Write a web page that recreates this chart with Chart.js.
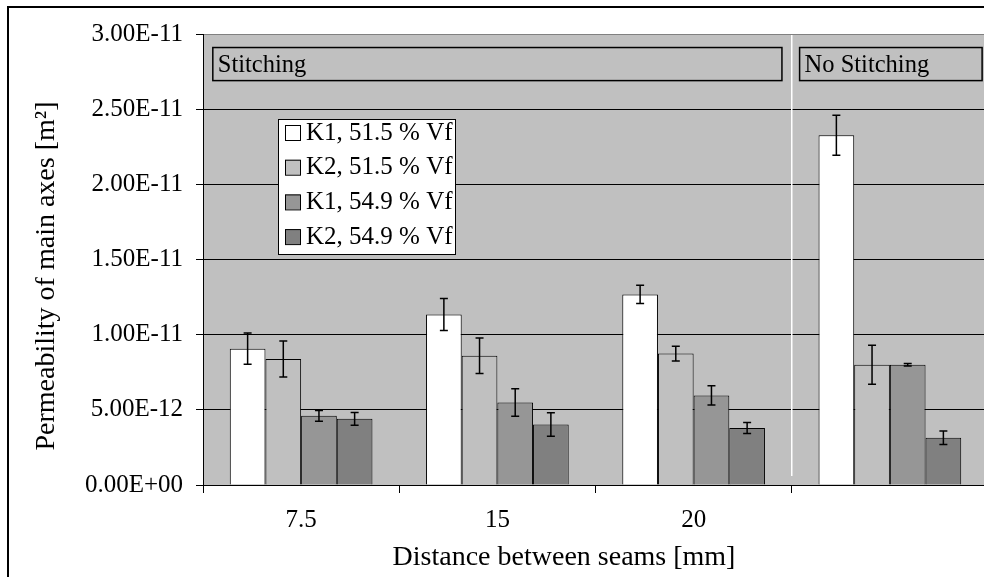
<!DOCTYPE html>
<html>
<head>
<meta charset="utf-8">
<script src="https://cdn.jsdelivr.net/npm/chart.js@4.4.0/dist/chart.umd.min.js"></script>
<style>
  html, body { margin: 0; padding: 0; background: #fff; overflow: hidden; }
  #wrap { width: 1000px; height: 577px; }
</style>
</head>
<body>
<div id="wrap"><canvas id="chart" width="1000" height="577"></canvas></div>
<script>
// categories (last group has no label, it is the "No Stitching" reference)
const categories = ['7.5', '15', '20', '']
const seriesLabels = ['K1, 51.5 % Vf', 'K2, 51.5 % Vf', 'K1, 54.9 % Vf', 'K2, 54.9 % Vf']
const seriesColors = ['#ffffff', '#c0c0c0', '#969696', '#808080']

// permeability values [m^2] and their error bars
const k1_515 = [9.07e-12, 11.34e-12, 12.68e-12, 23.26e-12]
const k2_515 = [8.38e-12, 8.6e-12, 8.74e-12, 8.0e-12]
const k1_549 = [4.6e-12, 5.49e-12, 5.96e-12, 8.0e-12]
const k2_549 = [4.4e-12, 4.02e-12, 3.79e-12, 3.15e-12]
const k1_515_err = [1.04e-12, 1.07e-12, 0.6e-12, 1.33e-12]
const k2_515_err = [1.2e-12, 1.18e-12, 0.49e-12, 1.29e-12]
const k1_549_err = [0.36e-12, 0.92e-12, 0.64e-12, 0.08e-12]
const k2_549_err = [0.43e-12, 0.78e-12, 0.37e-12, 0.45e-12]

const yTickLabels = ['0.00E+00', '5.00E-12', '1.00E-11', '1.50E-11', '2.00E-11', '2.50E-11', '3.00E-11']

const xTitle = 'Distance between seams [mm]'
const yTitle = 'Permeability of main axes [m²]'

// region boxes: [label, from index, to index]
const regions = [['Stitching', -0.45, 2.45], ['No Stitching', 2.54, 3.47]]

const serif = "'Liberation Serif', 'Times New Roman', serif"

let values = [k1_515, k2_515, k1_549, k2_549]
let errors = [k1_515_err, k2_515_err, k1_549_err, k2_549_err]

let datasets = values.map((vals, i) => ({
    label: seriesLabels[i],
    data: vals,
    errors: errors[i],
    backgroundColor: seriesColors[i],
    borderColor: '#000',
    borderWidth: 1,
    categoryPercentage: 0.727,
    barPercentage: 1.0
}))

const plotBackground = {
    id: 'plotBackground',
    beforeDraw(chart) {
        let ctx = chart.ctx
        let a = chart.chartArea
        ctx.save()
        ctx.fillStyle = '#fff'
        ctx.fillRect(0, 0, chart.width, chart.height)
        ctx.fillStyle = '#c0c0c0'
        ctx.fillRect(a.left, a.top, a.right - a.left, a.bottom - a.top)
        ctx.restore()
    }
}

const errorBars = {
    id: 'errorBars',
    afterDatasetsDraw(chart) {
        let ctx = chart.ctx
        let y = chart.scales.y
        ctx.save()
        ctx.strokeStyle = '#000'
        ctx.lineWidth = 1.5
        chart.data.datasets.forEach((ds, di) => {
            chart.getDatasetMeta(di).data.forEach((bar, i) => {
                let v = ds.data[i]
                let e = ds.errors[i]
                let top = y.getPixelForValue(v + e)
                let bot = y.getPixelForValue(v - e)
                ctx.beginPath()
                ctx.moveTo(bar.x, top); ctx.lineTo(bar.x, bot)
                ctx.moveTo(bar.x - 4, top); ctx.lineTo(bar.x + 4, top)
                ctx.moveTo(bar.x - 4, bot); ctx.lineTo(bar.x + 4, bot)
                ctx.stroke()
            })
        })
        ctx.restore()
    }
}

const annotations = {
    id: 'annotations',
    afterDatasetsDraw(chart) {
        let ctx = chart.ctx
        let x = chart.scales.x
        let y = chart.scales.y
        ctx.save()
        // white separator between stitched and unstitched groups
        ctx.strokeStyle = '#fff'
        ctx.lineWidth = 1.5
        ctx.beginPath()
        ctx.moveTo(x.getPixelForValue(2.5), chart.chartArea.top + 1)
        ctx.lineTo(x.getPixelForValue(2.5), y.getPixelForValue(0.6e-12))
        ctx.stroke()
        // region label boxes
        let boxTop = y.getPixelForValue(2.91e-11)
        let boxBot = y.getPixelForValue(2.69e-11)
        ctx.strokeStyle = '#000'
        ctx.lineWidth = 1.5
        ctx.font = `24.5px ${serif}`
        ctx.fillStyle = '#000'
        ctx.textBaseline = 'middle'
        regions.forEach(r => {
            let l = x.getPixelForValue(r[1])
            let rt = x.getPixelForValue(r[2])
            ctx.strokeRect(l, boxTop, rt - l, boxBot - boxTop)
            ctx.fillText(r[0], l + 5, (boxTop + boxBot) / 2 + 1)
        })
        ctx.restore()
    }
}

const boxLegend = {
    id: 'boxLegend',
    afterDraw(chart) {
        let ctx = chart.ctx
        ctx.save()
        ctx.fillStyle = '#fff'
        ctx.fillRect(278, 119, 177, 135)
        ctx.strokeStyle = '#000'
        ctx.lineWidth = 1
        ctx.strokeRect(278.5, 119.5, 177, 135)
        ctx.font = `25px ${serif}`
        ctx.textBaseline = 'middle'
        chart.data.datasets.forEach((ds, i) => {
            let cy = 132 + i * 34.7
            ctx.fillStyle = ds.backgroundColor
            ctx.fillRect(285, cy - 7, 15, 15)
            ctx.strokeRect(285.5, cy - 6.5, 15, 15)
            ctx.fillStyle = '#000'
            ctx.fillText(ds.label, 306, cy + 1)
        })
        ctx.restore()
    }
}

const titles = {
    id: 'titles',
    afterDraw(chart) {
        let ctx = chart.ctx
        ctx.save()
        ctx.fillStyle = '#000'
        ctx.font = `28px ${serif}`
        ctx.textAlign = 'center'
        ctx.textBaseline = 'middle'
        ctx.fillText(xTitle, 564, 558)
        ctx.translate(47, 276)
        ctx.rotate(-Math.PI / 2)
        ctx.fillText(yTitle, 0, 0)
        ctx.restore()
        // outer frame
        ctx.save()
        ctx.strokeStyle = '#000'
        ctx.lineWidth = 2
        ctx.strokeRect(8, 7, chart.width, chart.height)
        ctx.restore()
    }
}

let ctx = document.getElementById('chart').getContext('2d')
let myChart = new Chart(ctx, {
    type: 'bar',
    data: {
        labels: categories,
        datasets: datasets
    },
    plugins: [plotBackground, errorBars, annotations, boxLegend, titles],
    options: {
        responsive: false,
        animation: false,
        devicePixelRatio: 1,
        layout: {
            padding: { top: 34, right: 12, left: 0, bottom: 0 }
        },
        plugins: {
            legend: { display: false },
            tooltip: { enabled: false }
        },
        scales: {
            x: {
                offset: true,
                grid: {
                    offset: true,
                    drawOnChartArea: false,
                    drawTicks: true,
                    tickLength: 8,
                    color: '#000'
                },
                border: { color: '#000', width: 1 },
                ticks: {
                    color: '#000',
                    font: { family: serif, size: 25 },
                    padding: 12,
                    maxRotation: 0
                },
                afterFit: (scale) => { scale.height = 92 }
            },
            y: {
                min: 0,
                max: 3e-11,
                ticks: {
                    stepSize: 5e-12,
                    color: '#000',
                    font: { family: serif, size: 25 },
                    padding: 13,
                    callback: (value, index) => yTickLabels[index]
                },
                grid: {
                    color: (c) => (c.tick && c.tick.value >= 2.99e-11) ? '#808080' : '#000',
                    tickColor: '#000',
                    tickLength: 7,
                    lineWidth: 1
                },
                border: { color: '#000', width: 1 },
                afterFit: (scale) => { scale.width = 203 }
            }
        }
    }
})
</script>
</body>
</html>
